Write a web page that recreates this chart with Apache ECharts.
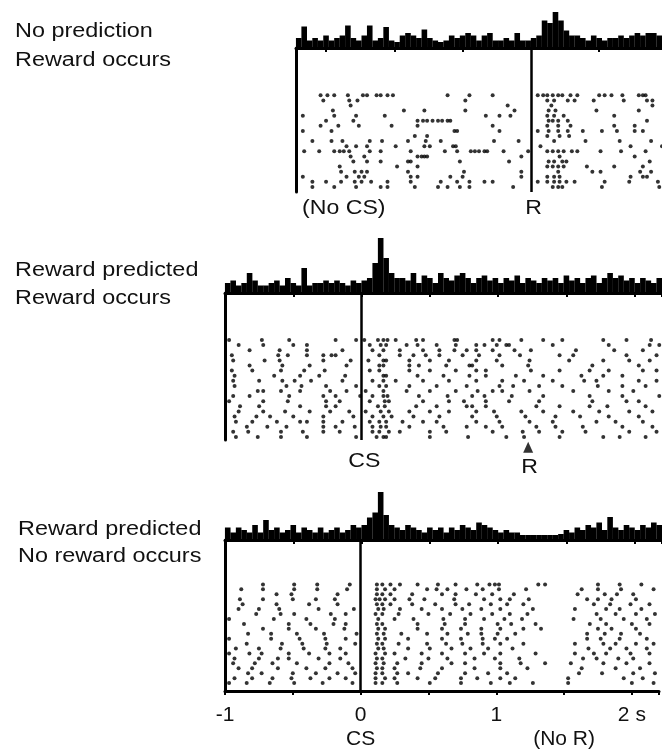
<!DOCTYPE html>
<html><head><meta charset="utf-8">
<script src="https://cdn.jsdelivr.net/npm/echarts@6/dist/echarts.min.js"></script>
<style>html,body{margin:0;padding:0;background:#fff}#c{width:662px;height:751px}</style>
</head><body><div id="c"></div>
<script>
// ---------- DATA ----------
const binWidth = 0.04;
// Panel 1 (times relative to reward R)
const hist1Start = -1.72;
const hist1 = [2,4.3,1.5,2,1.5,2.5,1.5,2,2.5,4.5,2,1.5,2.5,4.5,1.5,2,4.2,1.5,1.2,2.5,3,2.5,2,3.7,2,1.5,1.2,1.5,2.5,2,2.5,3,2.5,1.5,2.5,3,1.5,1.5,2,1.5,3,1.5,1.5,2,2.5,5.5,5,7.2,5.5,3.5,2.5,2.5,2,1.5,2.5,2,1.5,2,2,2.5,2,2.5,3,2.5,3,3,2.5];
// Panel 2 (times relative to CS)
const hist2Start = -1.0;
const hist2 = [2,2.5,1.5,2,4,2.5,1.5,1.5,2,2.5,1.5,3,2,1.5,5,1.5,2,2,2.5,2,2.5,2,1.5,2.5,2,
  2.5,3,6,11,7,4,3,
  3,2.5,4,2,3.5,3,2,4,3,2.5,3.5,4,3,2,3,3.5,2.5,3,2,3,2.5,3.5,2,3,2.5,2,3,2.5,3,2,3.5,2.5,3,2,3,3.5,2,3,4,3,3.5,2.5,3,2,3,2.5,2,3];
// Panel 3 (times relative to CS)
const hist3Start = -1.0;
const hist3 = [2.5,1.5,2.5,2,1.5,3,1.5,4,2,2.5,1.5,2,3,1.5,2.5,2,1.5,2.5,1.5,2,2.5,1.5,2,3,2.5,
  3,4.5,5.5,9.6,5,3,2.5,
  2,3,2.5,2,1.5,2.5,2,2.5,1.5,2.5,2,3,2.5,2,3.5,3,2.5,2,1.5,2,1.5,1.5,
  1,1,1,1,1,1,1,1.2,
  2,1.5,2.5,2,3,2.5,3.5,2,4.6,2.5,2,3,2.5,2,3,2.5,3.5,3];

const raster1 = [
 [-1.54,-1.49,-1.44,-1.34,-1.23,-1.20,-1.13,-1.10,-1.05,-1.01,-0.61,-0.45,-0.28,0.05,0.09,0.12,0.16,0.20,0.23,0.29,0.34,0.50,0.54,0.59,0.67,0.79,0.82,0.84],
 [-1.52,-1.33,-1.27,-0.48,0.12,0.17,0.27,0.32,0.46,0.68,0.85,0.89],
 [-1.32,-0.17,0.15,0.89],
 [-1.45,-0.93,-0.78,-0.48,-0.12,0.13,0.18,0.48,0.79],
 [-1.67,-1.44,-1.28,-1.07,-0.33,-0.23,-0.15,0.12,0.17,0.24,0.61],
 [-1.50,-1.30,-0.83,-0.79,-0.76,-0.72,-0.68,-0.65,-0.61,-0.59,0.13,0.16,0.20,0.27,0.85],
 [-1.54,-1.41,-1.26,-1.02,-0.83,-0.28,0.12,0.20,0.29,0.61,0.76],
 [-1.67,-1.46,-0.56,-0.54,-0.23,0.05,0.13,0.20,0.27,0.38,0.52,0.63,0.76,0.82],
 [-0.85,-0.76,0.12,0.21,0.28],
 [-1.60,-1.46,-1.38,-1.18,-1.09,-0.90,-0.77,-0.66,-0.27,-0.09,0.17,0.40,0.65,0.88],
 [-1.35,-1.28,-1.20,-0.99,-0.78,-0.74,-0.57,-0.55,0.07,0.73,0.96],
 [-1.66,-1.55,-1.44,-1.40,-1.37,-1.33,-1.18,-1.10,-0.88,-0.63,-0.54,-0.44,-0.41,-0.38,-0.34,-0.32,-0.20,-0.02,0.12,0.16,0.20,0.24,0.30,0.34,0.51,0.66,0.84],
 [-1.32,-1.22,-0.83,-0.80,-0.78,-0.76,-0.07,0.21,0.76],
 [-1.30,-1.20,-1.10,-0.90,-0.88,-0.52,-0.16,0.13,0.17,0.23,0.26,0.87],
 [-1.40,-0.98,-0.83,0.12,0.16,0.20,0.24,0.41,0.61,0.82],
 [-1.39,-1.29,-1.24,-1.20,-0.90,-0.49,-0.07,0.20,0.45,0.51,0.80,0.88],
 [-1.67,-1.35,-1.26,-1.22,-0.88,-0.83,-0.59,-0.50,-0.07,0.12,0.17,0.21,0.73,0.82,0.85],
 [-1.60,-1.50,-1.39,-1.29,-1.24,-1.17,-1.05,-0.88,-0.66,-0.54,-0.45,-0.34,-0.28,0.05,0.12,0.17,0.21,0.26,0.32,0.54,0.72,0.93],
 [-1.60,-1.44,-1.28,-1.10,-1.05,-0.85,-0.68,-0.61,-0.52,-0.45,-0.13,0.16,0.20,0.23,0.52,0.94]
];
const raster2 = [
 [-0.97,-0.73,-0.53,-0.19,-0.04,0.02,0.12,0.16,0.19,0.25,0.40,0.45,0.68,0.70,0.96,1.01,1.17,1.33,1.47,1.77,1.94,2.12],
 [-0.90,-0.72,-0.50,-0.40,0.06,0.14,0.18,0.33,0.41,0.55,0.69,0.84,0.90,0.99,1.06,1.08,1.40,1.81,2.11,2.18],
 [-0.82,-0.60,-0.40,-0.14,0.08,0.16,0.28,0.45,0.57,0.68,0.77,0.84,0.96,1.12,1.24,1.57,1.85,2.06],
 [-0.95,-0.61,-0.54,-0.40,-0.28,-0.22,-0.19,0.13,0.28,0.38,0.47,0.57,0.74,0.86,1.01,1.16,1.45,1.55,1.94,2.16],
 [-0.94,-0.71,-0.60,-0.28,-0.08,0.05,0.16,0.18,0.35,0.50,0.64,0.84,0.99,1.23,1.52,1.77,1.96,2.11],
 [-0.82,-0.58,-0.38,-0.11,0.13,0.16,0.35,0.42,0.62,0.79,0.81,1.03,1.22,1.69,2.03],
 [-0.95,-0.80,-0.59,-0.42,-0.27,0.06,0.13,0.35,0.50,0.69,0.84,0.91,1.24,1.45,1.67,1.81,2.06,2.16],
 [-0.93,-0.64,-0.45,-0.31,-0.12,0.16,0.18,0.41,0.60,0.79,0.91,1.13,1.33,1.61,1.77,1.91],
 [-0.94,-0.75,-0.58,-0.49,-0.37,-0.14,0.08,0.16,0.25,0.45,0.64,0.84,1.03,1.19,1.40,1.63,1.72,2.03,2.16],
 [-0.93,-0.55,-0.44,-0.26,-0.04,0.13,0.18,0.35,0.55,0.77,1.01,1.11,1.30,1.47,1.73,1.91,2.08],
 [-0.76,-0.72,-0.59,-0.45,-0.23,-0.11,0.03,0.16,0.33,0.50,0.69,0.85,0.96,1.03,1.23,1.55,1.81,1.99],
 [-0.94,-0.82,-0.53,-0.28,-0.19,-0.01,0.08,0.16,0.19,0.42,0.63,0.81,0.90,1.10,1.33,1.67,1.91,2.18],
 [-0.97,-0.72,-0.54,-0.26,-0.16,0.06,0.17,0.20,0.45,0.64,0.75,0.91,1.08,1.30,1.69,1.94,2.03],
 [-0.89,-0.75,-0.45,-0.26,-0.19,0.12,0.17,0.40,0.55,0.77,0.81,0.91,1.28,1.45,1.67,1.80,2.08],
 [-0.90,-0.72,-0.56,-0.38,-0.23,-0.09,0.03,0.14,0.20,0.35,0.50,0.64,0.84,0.97,1.17,1.33,1.55,1.74,1.96,2.13],
 [-0.93,-0.77,-0.67,-0.50,-0.28,-0.06,0.08,0.16,0.22,0.38,0.57,0.81,0.99,1.20,1.42,1.60,1.81,2.03],
 [-0.92,-0.80,-0.62,-0.45,-0.40,-0.28,-0.14,0.06,0.13,0.18,0.30,0.45,0.55,0.84,1.01,1.23,1.40,1.72,1.86,2.06],
 [-0.84,-0.69,-0.55,-0.28,-0.19,-0.05,0.08,0.14,0.18,0.35,0.60,0.77,0.91,1.03,1.28,1.42,1.62,1.91,2.13],
 [-0.94,-0.83,-0.59,-0.43,-0.28,-0.16,0.08,0.13,0.20,0.28,0.50,0.62,0.96,1.18,1.30,1.47,1.64,1.96,2.16],
 [-0.92,-0.76,-0.59,-0.40,-0.04,0.11,0.16,0.18,0.50,0.78,1.06,1.19,1.45,1.77,1.89,2.08]
];
const raster3 = [
 [-0.72,-0.49,-0.32,-0.08,0.12,0.16,0.22,0.29,0.42,0.57,0.70,0.86,0.95,0.99,1.02,1.31,1.36,1.75,1.91,2.07],
 [-0.88,-0.72,-0.49,-0.32,-0.10,0.12,0.18,0.25,0.49,0.56,0.64,0.78,0.90,1.02,1.22,1.63,1.75,1.92,2.16],
 [-0.62,-0.51,-0.17,0.12,0.16,0.22,0.38,0.60,0.70,0.85,0.97,1.13,1.60,1.80,1.89,2.01],
 [-0.89,-0.72,-0.50,-0.33,-0.19,0.11,0.14,0.18,0.25,0.36,0.47,0.69,0.91,1.03,1.10,1.24,1.67,1.75,1.85,2.03],
 [-0.87,-0.62,-0.38,-0.17,0.12,0.16,0.22,0.38,0.55,0.70,0.80,0.96,1.08,1.20,1.72,1.84,1.99,2.13],
 [-0.90,-0.75,-0.60,-0.31,-0.05,0.13,0.17,0.29,0.45,0.60,0.75,0.89,1.03,1.27,1.58,1.81,1.91,2.07],
 [-0.77,-0.59,-0.49,-0.22,-0.11,0.11,0.16,0.28,0.50,0.66,0.81,0.97,1.10,1.23,1.74,1.88,2.03,2.17],
 [-0.97,-0.64,-0.40,-0.19,0.13,0.25,0.39,0.61,0.77,0.91,1.06,1.19,1.57,1.77,1.94,2.11],
 [-0.86,-0.53,-0.37,-0.20,-0.11,0.12,0.16,0.42,0.62,0.77,1.01,1.11,1.29,1.69,1.81,2.00,2.13],
 [-0.72,-0.53,-0.33,-0.12,0.13,0.18,0.42,0.60,0.74,0.89,1.03,1.20,1.33,1.75,1.85,2.03],
 [-0.83,-0.66,-0.47,-0.27,-0.03,0.12,0.17,0.30,0.49,0.64,0.79,0.89,1.01,1.14,1.67,1.80,1.92,2.06],
 [-0.97,-0.66,-0.45,-0.26,-0.11,0.13,0.18,0.35,0.60,0.74,0.90,0.99,1.08,1.67,1.77,1.91,2.11],
 [-0.84,-0.58,-0.43,-0.25,-0.04,0.12,0.16,0.28,0.49,0.63,0.75,0.90,1.03,1.20,1.58,1.79,1.88,2.03,2.16],
 [-0.92,-0.75,-0.59,-0.42,-0.26,-0.15,0.13,0.17,0.35,0.51,0.67,0.81,0.94,1.12,1.68,1.84,1.96,2.11],
 [-0.97,-0.82,-0.73,-0.53,-0.38,-0.23,-0.11,0.11,0.18,0.25,0.45,0.60,0.77,0.91,1.03,1.29,1.58,1.72,1.81,1.99,2.13],
 [-0.93,-0.75,-0.61,-0.53,-0.31,-0.15,0.12,0.16,0.33,0.50,0.64,0.84,0.99,1.17,1.64,1.74,1.90,2.01],
 [-0.94,-0.78,-0.65,-0.47,-0.23,-0.09,0.11,0.17,0.27,0.45,0.67,0.77,1.03,1.18,1.36,1.55,1.79,1.96,2.13],
 [-0.90,-0.80,-0.61,-0.40,-0.26,-0.06,0.12,0.16,0.25,0.44,0.60,0.84,1.03,1.23,1.63,1.88,2.06],
 [-0.83,-0.73,-0.50,-0.33,-0.17,-0.04,0.11,0.16,0.27,0.35,0.57,0.77,0.94,1.08,1.61,1.78,2.01,2.17],
 [-0.93,-0.80,-0.65,-0.51,-0.37,-0.23,-0.11,0.11,0.18,0.25,0.42,0.55,0.74,0.86,1.03,1.14,1.53,1.94,2.08],
 [-0.97,-0.84,-0.67,-0.49,-0.28,-0.06,0.11,0.16,0.27,0.51,0.74,0.96,1.10,1.27,1.53,2.00,2.16]
];
const tickLabels = {'-1':'-1', '0':'0\nCS', '1':'1', '1.5':'\n(No R)', '2':'2 s'};
const panelTitles = [['No prediction','Reward occurs'],['Reward predicted','Reward occurs'],['Reward predicted','No reward occurs']];
const rewardTime = 1.22;       // predicted reward time in panel 2 (arrow)
const panel1Ticks = [-1.5,-1,-0.5,0.5];

// ---------- CHART ----------
const FONT = 'Liberation Sans, Arial, sans-serif';
const chart = echarts.init(document.getElementById('c'), null, {renderer:'canvas'});

function histData(arr, start){ return arr.map((v,k)=>[start+(k+0.5)*binWidth, v]); }
function rasterData(trials){ const out=[]; trials.forEach((row,i)=>row.forEach(t=>out.push([t,i]))); return out; }

const grids = [
  {left:296, right:0, top:8, height:40},
  {left:296, right:0, top:48, height:144},
  {left:225, right:0, top:233, height:60},
  {left:225, right:0, top:293, height:147},
  {left:225, right:0, top:480, height:60},
  {left:225, right:0, top:540, height:153}
];
const X1 = {min:-1.72, max:0.96}, X2 = {min:-1, max:2.2};
const histX = (g, ext, ticks) => ({type:'value', gridIndex:g, min:ext.min, max:ext.max,
  axisLine:{show:true, onZero:false, lineStyle:{color:'#000', width:3}},
  axisTick: ticks ? {show:true, customValues:ticks, length:4, lineStyle:{color:'#000', width:2}}
                  : {show:true, length:4, lineStyle:{color:'#000', width:2}},
  interval: ticks ? undefined : 0.5,
  axisLabel:{show:false}, splitLine:{show:false}});
const hiddenX = (g, ext) => ({type:'value', gridIndex:g, min:ext.min, max:ext.max, show:false, splitLine:{show:false}});
const bottomX = {type:'value', gridIndex:5, min:X2.min, max:X2.max, interval:0.5,
  axisLine:{show:true, onZero:false, lineStyle:{color:'#000', width:3}},
  axisTick:{show:true, length:4, lineStyle:{color:'#000', width:2}},
  axisLabel:{show:true, margin:12, fontFamily:FONT, fontSize:21, lineHeight:24, color:'#111',
    showMinLabel:true, showMaxLabel:true,
    formatter:(v)=>{ const k=String(Math.round(v*100)/100); return tickLabels[k]!==undefined?tickLabels[k]:''; }},
  splitLine:{show:false}};
const histY = (g, max) => ({type:'value', gridIndex:g, min:0, max:max, show:false, splitLine:{show:false}});
const rasterY = (g, min, max) => ({type:'value', gridIndex:g, min:min, max:max, inverse:true,
  axisLine:{show:true, onZero:false, lineStyle:{color:'#000', width:3}},
  axisTick:{show:false}, axisLabel:{show:false}, splitLine:{show:false}});

const barSeries = (g, arr, start) => ({type:'bar', xAxisIndex:g, yAxisIndex:g, data:histData(arr,start),
  barWidth:5.6, itemStyle:{color:'#000'}, silent:true});
const markAt0 = {silent:true, symbol:['none','none'], label:{show:false},
  lineStyle:{color:'#000', width:2.5, type:'solid'}, data:[{xAxis:0}]};
const dotSeries = (g, trials) => ({type:'scatter', xAxisIndex:g, yAxisIndex:g, data:rasterData(trials),
  symbol:'circle', symbolSize:4, itemStyle:{color:'#000'}, silent:true, markLine:markAt0});

const option = {
  animation:false,
  backgroundColor:'#fff',
  grid:grids,
  xAxis:[histX(0,X1,panel1Ticks), hiddenX(1,X1), histX(2,X2), hiddenX(3,X2), histX(4,X2), bottomX],
  yAxis:[histY(0,8), rasterY(1,-9.3,19), histY(2,12), rasterY(3,-9.2,19.6), histY(4,12), rasterY(5,-9,21.6)],
  series:[
    barSeries(0,hist1,hist1Start), dotSeries(1,raster1),
    barSeries(2,hist2,hist2Start), dotSeries(3,raster2),
    barSeries(4,hist3,hist3Start), dotSeries(5,raster3),
    {type:'scatter', xAxisIndex:3, yAxisIndex:3, clip:false, silent:true, data:[[rewardTime,21]],
     symbol:'triangle', symbolSize:[10,11], itemStyle:{color:'#000'}}
  ]
};
chart.setOption(option);

// ---------- annotations (positioned through the axes) ----------
const px = (g, t, y) => chart.convertToPixel({gridIndex:g}, [t, y]);
const annots = [
  {g:1, t:-1.37, y:22.2, text:'(No CS)'},
  {g:1, t:0.02, y:22.2, text:'R'},
  {g:3, t:0.02, y:23.7, text:'CS'},
  {g:3, t:rewardTime+0.01, y:24.9, text:'R'}
];
const graphics = [];
annots.forEach(a=>{
  const p = px(a.g, a.t, a.y);
  graphics.push({type:'text', x:p[0], y:p[1], scaleX:1.1, silent:true,
    style:{text:a.text, font:'21px '+FONT, fill:'#111', align:'center', verticalAlign:'middle'}});
});
const titleY = [[32,61],[271,299],[530,557]];
const titleX = [15,15,18];
panelTitles.forEach((lines,i)=>{
  lines.forEach((s,j)=>{
    graphics.push({type:'text', x:titleX[i], y:titleY[i][j], scaleX:1.2, silent:true,
      style:{text:s, font:'19.5px '+FONT, fill:'#111', align:'left', verticalAlign:'middle'}});
  });
});
chart.setOption({graphic:graphics});
</script>
</body></html>
